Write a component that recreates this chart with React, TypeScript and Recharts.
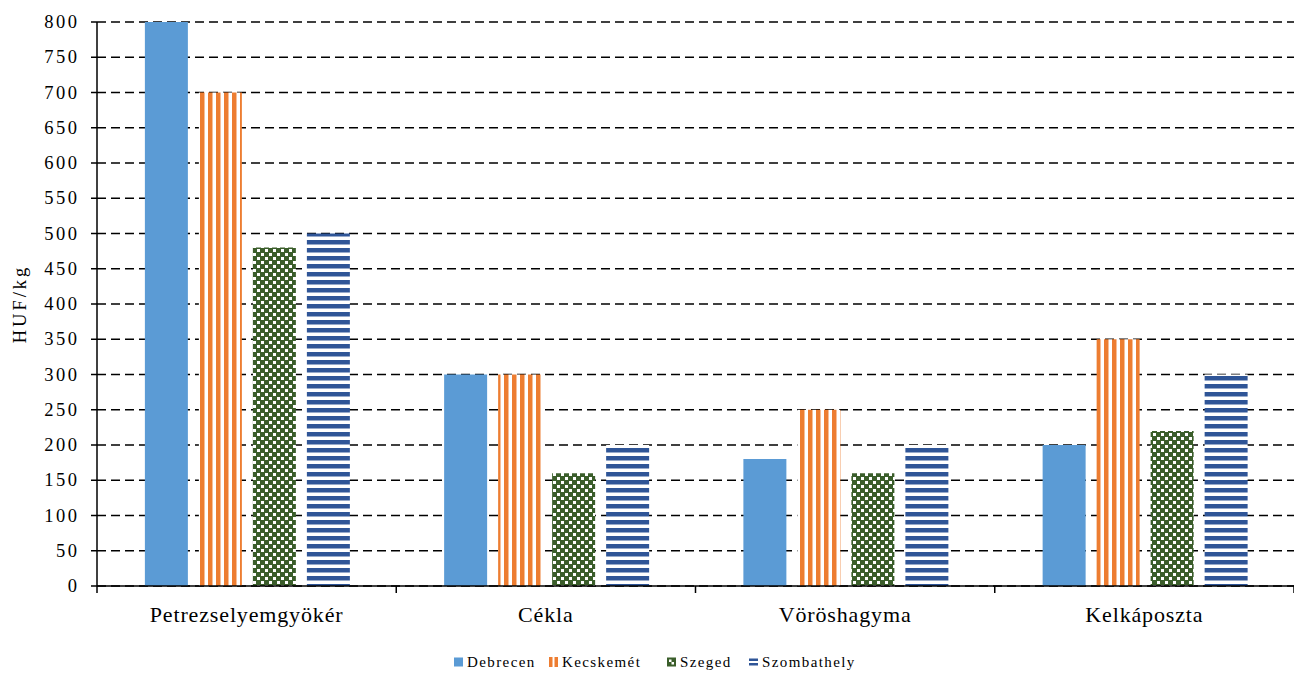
import React from 'react';
import { BarChart, Bar, XAxis, YAxis, CartesianGrid } from 'recharts';

const categories = ['Petrezselyemgyökér', 'Cékla', 'Vöröshagyma', 'Kelkáposzta'];
const debrecen = [800, 300, 180, 200];
const kecskemet = [700, 300, 250, 350];
const szeged = [480, 160, 160, 220];
const szombathely = [500, 200, 200, 300];
const yTicks = [0, 50, 100, 150, 200, 250, 300, 350, 400, 450, 500, 550, 600, 650, 700, 750, 800];

const series = [
    { key: 'Debrecen', fill: '#5B9BD5' },
    { key: 'Kecskemét', fill: 'url(#pat-kecs)' },
    { key: 'Szeged', fill: 'url(#pat-szeged)' },
    { key: 'Szombathely', fill: 'url(#pat-szomb)' },
];
// left edge of each legend entry
const legendX = [454, 549, 667, 749];

const data = categories.map((name, i) => ({
    name,
    Debrecen: debrecen[i],
    'Kecskemét': kecskemet[i],
    Szeged: szeged[i],
    Szombathely: szombathely[i],
}));

const FONT = '"Liberation Serif", serif';

function CategoryTick(props: any) {
    const { x, y, payload, index } = props;
    const half = payload && payload.offset != null ? payload.offset : 149.6;
    return (
        <g>
            <line x1={x - half} x2={x - half} y1={y - 8} y2={y - 1} stroke="#000" strokeWidth={1.5} />
            {index === categories.length - 1 && (
                <line x1={x + half} x2={x + half} y1={y - 8} y2={y - 1} stroke="#000" strokeWidth={1.5} />
            )}
            <text x={x} y={y + 28} textAnchor="middle"
                style={{ fontFamily: FONT, fontSize: 22, letterSpacing: 0.85, fill: '#000' }}>
                {payload.value}
            </text>
        </g>
    );
}

function ValueTick(props: any) {
    const { x, y, payload } = props;
    return (
        <text x={x + 2.5} y={y} dy={6} textAnchor="end"
            style={{ fontFamily: FONT, fontSize: 18.5, letterSpacing: 2.5, fill: '#000' }}>
            {payload.value}
        </text>
    );
}

function Patterns() {
    return (
        <defs>
            <pattern id="pat-kecs" width="8" height="8" patternUnits="userSpaceOnUse">
                <rect width="8" height="8" fill="#fff" />
                <rect x="0" width="4.5" height="8" fill="#ED7D31" />
            </pattern>
            <pattern id="pat-szeged" width="8" height="8" patternUnits="userSpaceOnUse">
                <rect width="8" height="8" fill="#3B5E2B" />
                <rect x="1" y="1" width="3" height="3" fill="#fff" />
                <rect x="5" y="5" width="3" height="3" fill="#fff" />
            </pattern>
            <pattern id="pat-szomb" width="8" height="8" patternUnits="userSpaceOnUse">
                <rect width="8" height="8" fill="#fff" />
                <rect y="0" width="8" height="4.5" fill="#2F5597" />
            </pattern>
        </defs>
    );
}

function LegendIcon({ name }: { name: string }) {
    if (name === 'Kecskemét') {
        return (
            <svg width={9} height={10}>
                <rect x={0} width={3.5} height={10} fill="#ED7D31" />
                <rect x={5.5} width={3.5} height={10} fill="#ED7D31" />
            </svg>
        );
    }
    if (name === 'Szeged') {
        return (
            <svg width={9} height={10}>
                <rect y={0.5} width={9} height={9} fill="#3B5E2B" />
                <rect x={2} y={2.5} width={2.5} height={2.5} fill="#fff" />
                <rect x={4.5} y={5} width={2.5} height={2.5} fill="#fff" />
            </svg>
        );
    }
    if (name === 'Szombathely') {
        return (
            <svg width={9} height={10}>
                <rect y={1.5} width={9} height={2.5} fill="#2F5597" />
                <rect y={6} width={9} height={2.5} fill="#2F5597" />
            </svg>
        );
    }
    return (
        <svg width={9} height={10}>
            <rect y={0.5} width={9} height={9} fill="#5B9BD5" />
        </svg>
    );
}

export default function App() {
    return (
        <div style={{ position: 'absolute', left: 0, top: 0, width: 1294, height: 673, background: '#fff', fontFamily: FONT }}>
            <BarChart
                width={1294}
                height={673}
                data={data}
                margin={{ top: 22, right: 0, left: 0, bottom: 37 }}
                barCategoryGap="16%"
                barGap={11}
            >
                <Patterns />
                <CartesianGrid vertical={false} stroke="#000" strokeWidth={1.5} strokeDasharray="9 5" />
                <XAxis
                    dataKey="name"
                    height={50}
                    axisLine={{ stroke: '#000', strokeWidth: 1.5 }}
                    tickLine={false}
                    tick={<CategoryTick />}
                    interval={0}
                />
                <YAxis
                    width={97}
                    domain={[0, 800]}
                    ticks={yTicks}
                    interval={0}
                    axisLine={{ stroke: '#000', strokeWidth: 1.5 }}
                    tickLine={{ stroke: '#000', strokeWidth: 1.5 }}
                    tickSize={6}
                    tickMargin={14}
                    tick={<ValueTick />}
                    label={{
                        value: 'HUF/kg', angle: -90, position: 'insideLeft', offset: 19,
                        style: { fontFamily: FONT, fontSize: 18.5, letterSpacing: 3, fill: '#000', textAnchor: 'middle' },
                    }}
                />
                {series.map(s => (
                    <Bar key={s.key} dataKey={s.key} fill={s.fill} isAnimationActive={false} />
                ))}
            </BarChart>
            {series.map((s, i) => (
                <span
                    key={s.key}
                    style={{
                        position: 'absolute',
                        top: 652,
                        left: legendX[i],
                        display: 'flex',
                        alignItems: 'center',
                        gap: 4,
                        fontFamily: FONT,
                        fontSize: 15,
                        letterSpacing: 1.4,
                        lineHeight: '20px',
                        color: '#000',
                        whiteSpace: 'nowrap',
                    }}
                >
                    <LegendIcon name={s.key} />
                    {s.key}
                </span>
            ))}
        </div>
    );
}
